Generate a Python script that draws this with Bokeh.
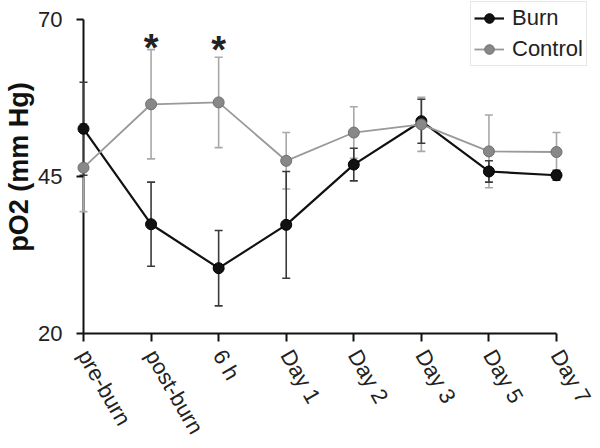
import math
from bokeh.plotting import figure
from bokeh.models import Range1d, FixedTicker, Legend, LegendItem
from bokeh.core.properties import value
from bokeh.embed import file_html
from bokeh.resources import INLINE

# ---------------- data ----------------
categories = ["pre-burn", "post-burn", "6 h", "Day 1", "Day 2", "Day 3", "Day 5", "Day 7"]
burn_mean = [52.6, 37.4, 30.4, 37.3, 46.9, 53.8, 45.8, 45.2]
burn_err = [7.4, 6.7, 6.0, 8.5, 2.6, 3.5, 1.7, 0.8]
control_mean = [46.4, 56.5, 56.8, 47.5, 52.0, 53.3, 49.0, 48.9]
control_err = [7.0, 8.7, 7.2, 4.5, 4.1, 4.3, 5.8, 3.1]
significant = ["post-burn", "6 h"]
star_y = [66.7, 66.3]
y_ticks = [20, 45, 70]
y_title = "pO2 (mm Hg)"

# ---------------- layout ----------------
FONT = "Liberation Sans"
W, H = 600, 448
BL, BB = 76, 115          # left / bottom panel sizes
AXIS_PX = 83              # pixel column of the y axis line
fw, fh = W - BL, H - BB
n = len(categories)
px_x = 473.0 / (n - 1)
x_start = -(AXIS_PX - BL) / px_x
x_end = x_start + fw / px_x
px_y = 314.0 / (y_ticks[-1] - y_ticks[0])
y_end = y_ticks[0] + fh / px_y

xs = list(range(n))
b_lo = [m - e for m, e in zip(burn_mean, burn_err)]
b_hi = [m + e for m, e in zip(burn_mean, burn_err)]
c_lo = [m - e for m, e in zip(control_mean, control_err)]
c_hi = [m + e for m, e in zip(control_mean, control_err)]

p = figure(width=W, height=H, output_backend="svg", toolbar_location=None,
           x_range=Range1d(x_start, x_end), y_range=Range1d(y_ticks[0], y_end),
           min_border_left=BL, min_border_right=0, min_border_top=0,
           min_border_bottom=BB)
p.outline_line_color = None
p.grid.visible = False
p.background_fill_color = "white"

BLACK = "#111111"
BURN_ERR = "#3a3a3a"
CTRL_LINE = "#999999"
CTRL_FILL = "#888888"
CTRL_EDGE = "#6e6e6e"
CTRL_ERR = "#a8a8a8"

# y axis line (drawn at category 0, spanning the tick range)
p.segment(x0=[0], y0=[y_ticks[0]], x1=[0], y1=[y_ticks[-1]], line_color="#111111", line_width=2)

# error bars
p.segment(x0=xs, y0=c_lo, x1=xs, y1=c_hi, line_color=CTRL_ERR, line_width=1.6)
p.scatter(xs + xs, c_lo + c_hi, marker="dash", size=8, line_color=CTRL_ERR, line_width=1.6)
p.segment(x0=xs, y0=b_lo, x1=xs, y1=b_hi, line_color=BURN_ERR, line_width=1.6)
p.scatter(xs + xs, b_lo + b_hi, marker="dash", size=8, line_color=BURN_ERR, line_width=1.6)

# series
bl = p.line(xs, burn_mean, line_color=BLACK, line_width=2.2)
bp = p.scatter(xs, burn_mean, marker="circle", size=11, fill_color=BLACK, line_color="#000000")
cl = p.line(xs, control_mean, line_color=CTRL_LINE, line_width=1.8)
cp = p.scatter(xs, control_mean, marker="circle", size=11, fill_color=CTRL_FILL, line_color=CTRL_EDGE)

# significance stars
sx = [categories.index(c) for c in significant]
STAR = 38
p.text(x=sx, y=star_y, text=["*"] * len(sx), text_font=value(FONT), text_font_size=f"{STAR}px",
       text_font_style="bold", text_align="center", text_baseline="alphabetic",
       y_offset=0.57 * STAR - 14, text_color="#222222")

# x axis
xa = p.xaxis[0]
xa.ticker = FixedTicker(ticks=xs)
xa.major_label_overrides = {i: c for i, c in enumerate(categories)}
xa.bounds = (0, n - 1)
xa.major_label_orientation = -math.pi / 3
xa.major_label_standoff = 10
xa.major_label_text_font = FONT
xa.major_label_text_font_size = "22px"
xa.major_label_text_color = "#222222"
xa.axis_line_color = "#111111"
xa.axis_line_width = 2
xa.major_tick_line_color = "#111111"
xa.major_tick_line_width = 2
xa.major_tick_in = 0
xa.major_tick_out = 8
xa.minor_tick_line_color = None

# y axis (at frame edge; ticks drawn inward so they end on the axis line)
ya = p.yaxis[0]
ya.ticker = FixedTicker(ticks=y_ticks)
ya.bounds = (y_ticks[0], y_ticks[-1])
ya.major_label_standoff = 14
ya.major_label_text_font = FONT
ya.major_label_text_font_size = "22px"
ya.major_label_text_color = "#222222"
ya.axis_line_color = None
ya.major_tick_line_color = "#111111"
ya.major_tick_line_width = 2
ya.major_tick_in = AXIS_PX - BL
ya.major_tick_out = 0
ya.minor_tick_line_color = None
ya.axis_label = y_title
ya.axis_label_text_font = FONT
ya.axis_label_text_font_size = "27px"
ya.axis_label_text_font_style = "bold"
ya.axis_label_text_color = "#111111"
ya.axis_label_standoff = 1

# legend
legend = Legend(items=[LegendItem(label="Burn", renderers=[bl, bp]),
                       LegendItem(label="Control", renderers=[cl, cp])],
                location=(394, 267), padding=3, spacing=5,
                glyph_width=30, glyph_height=24, label_height=24, label_standoff=8,
                label_text_font=FONT, label_text_font_size="22px", label_text_color="#222222",
                border_line_color="#d0d0d0", border_line_width=1,
                background_fill_color="white")
p.add_layout(legend, "center")

open("out.html", "w").write(file_html(p, INLINE))
